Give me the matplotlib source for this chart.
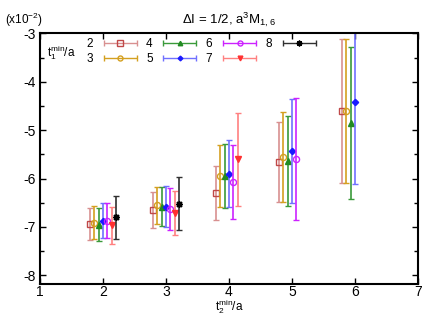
import matplotlib
matplotlib.use('Agg')
import matplotlib.pyplot as plt
import numpy as np
from matplotlib.legend_handler import HandlerErrorbar

plt.rcParams['font.family'] = ['Liberation Sans', 'DejaVu Sans']
plt.rcParams['mathtext.default'] = 'regular'
plt.rcParams['axes.unicode_minus'] = False

# t2min/a positions and fit results (units of 1e-2), one list per t1min/a
t2 = [2, 3, 4, 5, 6]
t1 = [2, 3, 4, 5, 6, 7, 8]
val2 = [-6.94, -6.65, -6.30, -5.655, -4.60]
err2 = [0.335, 0.38, 0.56, 0.825, 1.49]
val3 = [-6.91, -6.55, -5.945, -5.545, -4.60]
err3 = [0.335, 0.385, 0.64, 0.93, 1.49]
val4 = [-6.955, -6.58, -5.95, -5.63, -4.855]
err4 = [0.345, 0.41, 0.655, 0.93, 1.57]
val5 = [-6.87, -6.58, -5.90, -5.43, -4.41]
err5 = [0.36, 0.43, 0.69, 1.08, 1.70]
val6 = [-6.87, -6.63, -6.08, -5.59]
err6 = [0.36, 0.43, 0.765, 1.265]
val7 = [-6.97, -6.715, -5.60]
err7 = [0.39, 0.46, 0.96]
val8 = [-6.80, -6.52]
err8 = [0.445, 0.55]

vals = [val2, val3, val4, val5, val6, val7, val8]
errs = [err2, err3, err4, err5, err6, err7, err8]

colors = ['#c04848', '#d4a020', '#228b22', '#1a1aff', '#cc22ff', '#ff3030', '#000000']
ecolors = ['#d89090', '#d4a020', '#3a9a3a', '#7070ff', '#cc22ff', '#ff8080', '#303030']
markers = ['s', 'o', '^', 'D', 'o', 'v', (8, 2, 0)]
msizes = [4.6, 4.4, 4.0, 3.2, 4.4, 4.2, 5.0]
filled = [False, False, True, True, False, True, True]

fig = plt.figure(figsize=(4.36, 3.27), dpi=100)
ax = fig.add_axes([0.0917, 0.133, 0.867, 0.7646])

handles = []
for k, v, e, c, ec, m, ms, f in zip(t1, vals, errs, colors, ecolors, markers, msizes, filled):
    x = np.array(t2[:len(v)]) + (k - 5) * 0.07
    mfc = c if f else 'none'
    ax.errorbar(x, v, yerr=e, fmt='none', ecolor=ec, elinewidth=1.2,
                capsize=2, capthick=1.0)
    ax.plot(x, v, linestyle='none', marker=m, markersize=ms, color=c,
            markerfacecolor=mfc, markeredgewidth=1.0)
    h = ax.errorbar([np.nan], [np.nan], xerr=[1], fmt='', linestyle='none',
                    marker=m, color=c, ecolor=ec,
                    markersize=ms - 0.8, markerfacecolor=mfc, markeredgewidth=1.0,
                    elinewidth=1.0, capsize=2.5, label=str(k))
    handles.append(h)

ax.set_xlim(1, 7)
ax.set_ylim(-8.17, -3)
ax.set_xticks([1, 2, 3, 4, 5, 6, 7])
ax.set_yticks([-8, -7, -6, -5, -4, -3])
ax.set_yticks(np.arange(-8, -3, 0.5), minor=True)
ax.tick_params(which='both', direction='in', top=True, right=True,
               labelsize=10, width=1.0)
ax.tick_params(which='major', length=4, pad=3)
ax.tick_params(axis='x', pad=1)
ax.tick_params(which='minor', length=3)
for s in ax.spines.values():
    s.set_linewidth(1.5)

ax.set_xlabel('t$_2^{min}$/a', fontsize=8.5, labelpad=-1)
ax.set_title('ΔI = 1/2, a$^3$M$_{1,6}$', fontsize=9.5, pad=7)
fig.text(0.012, 0.94, '(x10$^{-2}$)', fontsize=8.5, ha='left', va='center')

leg = ax.legend(handles=handles, loc='upper left', bbox_to_anchor=(0.123, 0.98),
                ncol=4, frameon=False, markerfirst=False, fontsize=8.5,
                handlelength=3.0, handletextpad=0.8, columnspacing=0.7,
                labelspacing=0.2, borderpad=0, borderaxespad=0,
                handler_map={type(handles[0]): HandlerErrorbar(xerr_size=1.4)})
ax.text(0.018, 0.925, 't$_1^{min}$/a', transform=ax.transAxes, fontsize=8.5,
        ha='left', va='center')

fig.savefig('out.png', dpi=100)
